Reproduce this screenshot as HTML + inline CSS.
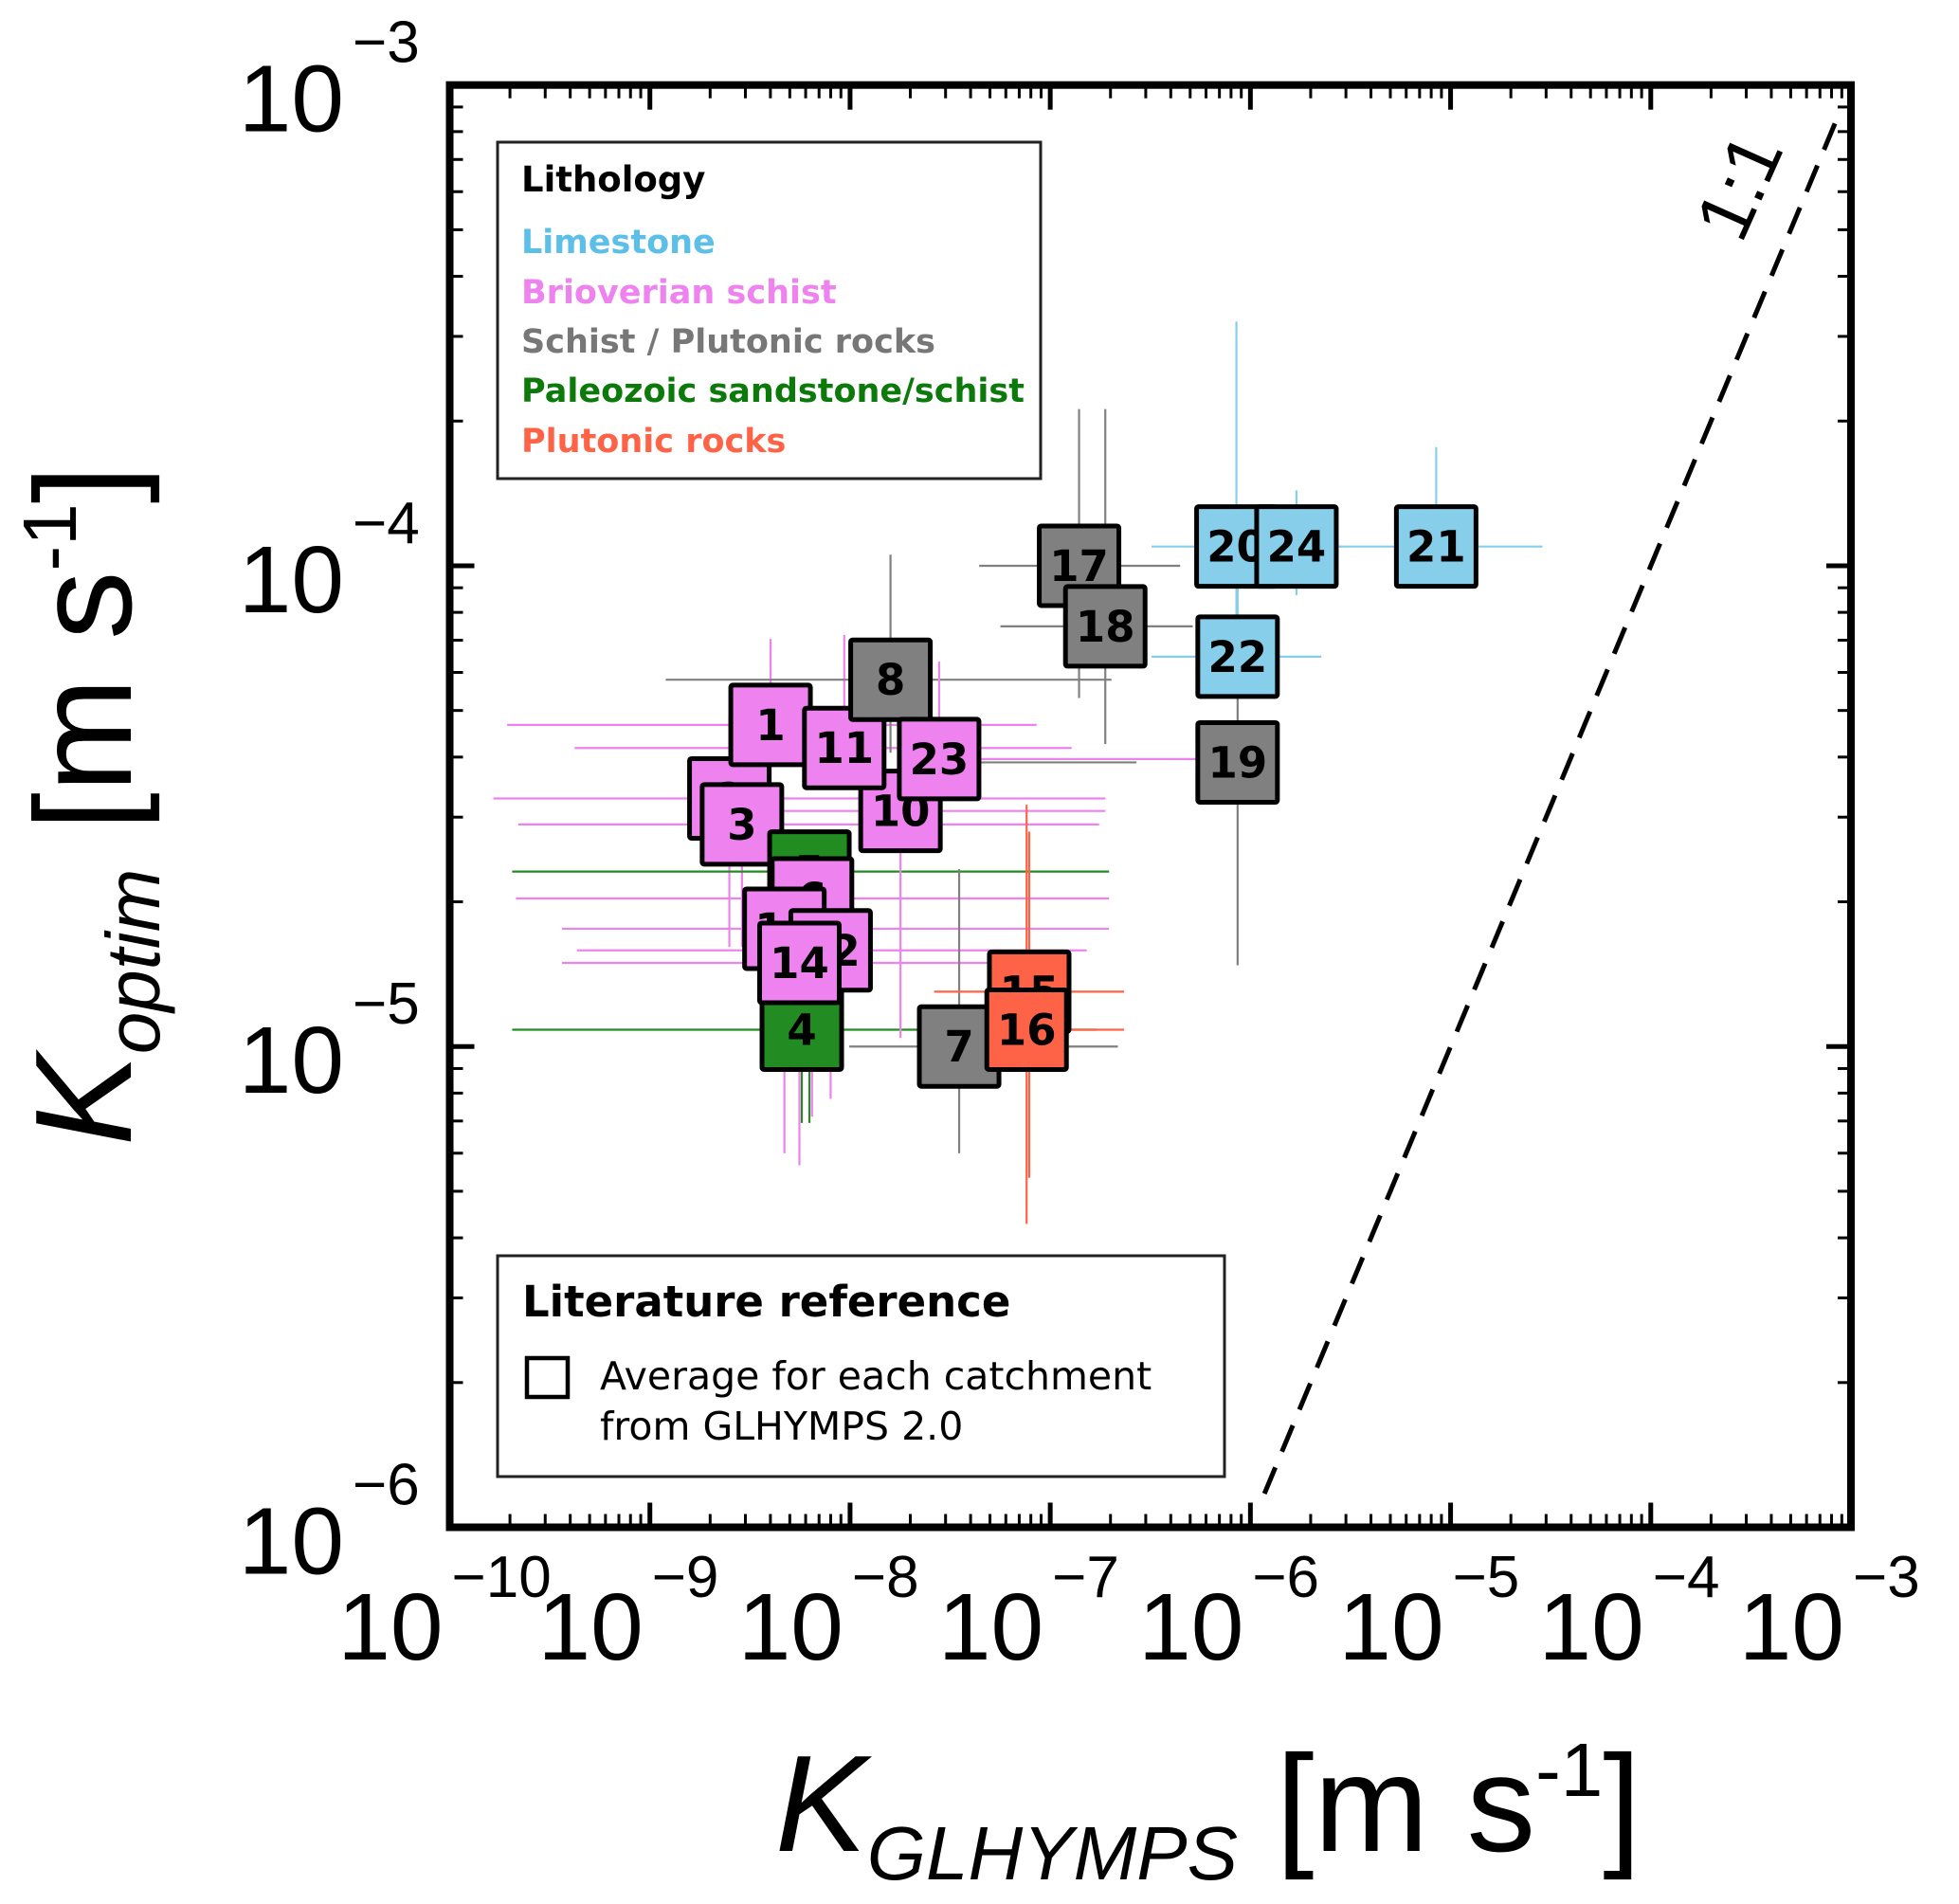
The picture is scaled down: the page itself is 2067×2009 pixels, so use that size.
<!DOCTYPE html>
<html><head><meta charset="utf-8"><style>
html,body{margin:0;padding:0;background:#fff;}
svg{display:block;font-family:"Liberation Sans","DejaVu Sans",sans-serif;}
</style></head><body>
<svg id="chart" width="2067" height="2009" viewBox="0 0 2067 2009" xmlns="http://www.w3.org/2000/svg">
<rect x="0" y="0" width="2067" height="2009" fill="#fff"/>
<g id="err-layer"></g>
<g id="box-layer"></g>
<g id="frame-layer"></g>
</svg>
<script>
// ---- data (log10 values) ----
const ids   = [2,1,3,5,6,13,12,4,14,10,11,8,23,7,15,16,17,18,19,20,24,21,22];
const lith  = ['b','b','b','p','b','b','b','p','b','b','b','s','b','s','o','o','s','s','s','l','l','l','l'];
const logX  = [-8.603,-8.397,-8.540,-8.203,-8.190,-8.328,-8.097,-8.241,-8.253,-7.748,-8.029,-7.798,-7.555,-7.455,-7.105,-7.118,-6.856,-6.725,-6.064,-6.070,-5.770,-5.072,-6.064];
const logY  = [-4.484,-4.331,-4.538,-4.636,-4.692,-4.755,-4.800,-4.965,-4.826,-4.510,-4.379,-4.237,-4.402,-5.000,-4.886,-4.965,-4.000,-4.126,-4.409,-3.960,-3.960,-3.960,-4.189];
const xLo   = [-9.782,-9.713,-9.657,-9.688,-9.669,-9.439,-9.364,-9.688,-9.439,-8.503,-9.376,-8.921,-7.380,-8.004,-7.580,-7.318,-7.355,-7.249,-7.349,-6.494,-5.976,-5.633,-6.494];
const xHi   = [-6.725,-7.068,-6.756,-6.706,-6.706,-6.706,-6.818,-6.769,-7.255,-6.725,-6.893,-6.694,-6.269,-6.662,-6.631,-6.631,-6.351,-6.288,-6.569,-5.633,-5.540,-4.541,-5.646];
const yLo   = [-4.793,-4.540,-4.793,-5.159,-5.146,-5.222,-5.109,-5.159,-5.247,-4.982,-4.439,-4.389,-4.553,-5.222,-5.273,-5.369,-4.275,-4.371,-4.831,-4.136,-4.061,-4.035,-4.237];
const yHi   = [-4.313,-4.152,-4.389,-4.566,-4.591,-4.692,-4.742,-4.843,-4.768,-4.439,-4.144,-3.977,-4.199,-4.631,-4.553,-4.497,-3.674,-3.674,-4.237,-3.492,-3.843,-3.753,-3.960];
const xTickExp = [-10,-9,-8,-7,-6,-5,-4,-3];
const yTickExp = [-6,-5,-4,-3];
const colors = {l:'#87CEEB', b:'#EE82EE', s:'#808080', p:'#228B22', o:'#FF6347'};

// ---- axes ----
const X0=474.5, X1=1953, Y0=89.7, Y1=1611.5;
const xmin=-10,xmax=-3,ymin=-6,ymax=-3;
const sx=v=>X0+(v-xmin)/(xmax-xmin)*(X1-X0);
const sy=v=>Y1-(v-ymin)/(ymax-ymin)*(Y1-Y0);
const NS='http://www.w3.org/2000/svg';
function mk(tag,attrs,parent){const e=document.createElementNS(NS,tag);for(const k in attrs)e.setAttribute(k,attrs[k]);parent.appendChild(e);return e;}
const errL=document.getElementById('err-layer');
const boxL=document.getElementById('box-layer');
const frL=document.getElementById('frame-layer');

for(let i=0;i<ids.length;i++){
  const c=colors[lith[i]];
  const h=mk('line',{x1:sx(xLo[i]),x2:sx(xHi[i]),y1:sy(logY[i]),y2:sy(logY[i]),stroke:c,'stroke-width':2.2},errL);
  
  
  const v=mk('line',{x1:sx(logX[i]),x2:sx(logX[i]),y1:sy(yLo[i]),y2:sy(yHi[i]),stroke:c,'stroke-width':2.2},errL);
  
  
}
const B=84;
for(let i=0;i<ids.length;i++){
  const g=mk('g',{},boxL);
  
  
  const cx=sx(logX[i]), cy=sy(logY[i]);
  mk('rect',{x:cx-B/2,y:cy-B/2,width:B,height:B,fill:colors[lith[i]],stroke:'#000','stroke-width':5,rx:2},g);
  const t=mk('text',{x:cx,y:cy+16,'text-anchor':'middle','font-size':45,'font-weight':'bold','font-family':'"DejaVu Sans",sans-serif',fill:'#000'},g);
  t.textContent=ids[i];
}
const one=mk('line',{x1:sx(-5.93),y1:sy(-5.93),x2:sx(-3.045),y2:sy(-3.045),stroke:'#000','stroke-width':5,'stroke-dasharray':'30 18'},frL);


const ot=mk('text',{x:0,y:0,transform:'translate(1860,208) rotate(-66)','text-anchor':'middle','font-size':80,fill:'#000'},frL);
ot.textContent='1:1';



const fr=mk('rect',{x:X0,y:Y0,width:X1-X0,height:Y1-Y0,fill:'none',stroke:'#000','stroke-width':8},frL);


for(let d=xmin;d<=xmax;d++){
  for(let m=1;m<10;m++){
    if(d===xmax&&m>1)break;
    const x=sx(d+Math.log10(m)); const L=m===1?26:14; const w=m===1?5:3;
    if(x<X0+1||x>X1-1)continue;
    mk('line',{x1:x,x2:x,y1:Y1,y2:Y1-L,stroke:'#000','stroke-width':w},frL);
    mk('line',{x1:x,x2:x,y1:Y0,y2:Y0+L,stroke:'#000','stroke-width':w},frL);
  }
}
for(let d=ymin;d<=ymax;d++){
  for(let m=1;m<10;m++){
    if(d===ymax&&m>1)break;
    const y=sy(d+Math.log10(m)); const L=m===1?26:14; const w=m===1?5:3;
    if(y<Y0+1||y>Y1-1)continue;
    mk('line',{x1:X0,x2:X0+L,y1:y,y2:y,stroke:'#000','stroke-width':w},frL);
    mk('line',{x1:X1,x2:X1-L,y1:y,y2:y,stroke:'#000','stroke-width':w},frL);
  }
}
xTickExp.forEach(e=>{
  const x=sx(e);
  const t=mk('text',{x:x-7,y:1751,'text-anchor':'end','font-size':100,fill:'#000'},frL);
  
  
  t.textContent='10';
  const s=mk('text',{x:x+2,y:1685,'text-anchor':'start','font-size':62,fill:'#000'},frL);
  
  
  s.textContent='\u2212'+(-e);
});
yTickExp.forEach(e=>{
  const y=sy(e);
  const t=mk('text',{x:363,y:y+49,'text-anchor':'end','font-size':100,fill:'#000'},frL);
  
  
  t.textContent='10';
  const s=mk('text',{x:372,y:y-24,'text-anchor':'start','font-size':62,fill:'#000'},frL);
  
  
  s.textContent='\u2212'+(-e);
});
</script>
<svg style="position:absolute;left:0;top:0" width="2067" height="2009" viewBox="0 0 2067 2009" xmlns="http://www.w3.org/2000/svg" font-family="Liberation Sans, DejaVu Sans, sans-serif">
  <g>
    <rect x="525" y="150" width="573" height="355" fill="#fff" stroke="#222" stroke-width="3"/>
    <text x="550" y="202" font-size="37" font-weight="bold" font-family="DejaVu Sans, sans-serif" fill="#000">Lithology</text>
    <text x="550" y="267" font-size="35" font-weight="bold" font-family="DejaVu Sans, sans-serif" fill="#5bbfe8">Limestone</text>
    <text x="550" y="320" font-size="35" font-weight="bold" font-family="DejaVu Sans, sans-serif" fill="#EE82EE">Brioverian schist</text>
    <text x="550" y="372" font-size="35" font-weight="bold" font-family="DejaVu Sans, sans-serif" fill="#777">Schist / Plutonic rocks</text>
    <text x="550" y="424" font-size="35" font-weight="bold" font-family="DejaVu Sans, sans-serif" fill="#0b7a0b">Paleozoic sandstone/schist</text>
    <text x="550" y="477" font-size="35" font-weight="bold" font-family="DejaVu Sans, sans-serif" fill="#FF6347">Plutonic rocks</text>
  </g>
  <g>
    <rect x="525" y="1325" width="767" height="233" fill="#fff" stroke="#222" stroke-width="3"/>
    <text x="551" y="1389" font-size="45" font-weight="bold" font-family="DejaVu Sans, sans-serif" fill="#000">Literature reference</text>
    <rect x="556" y="1433" width="43" height="41" fill="none" stroke="#000" stroke-width="4.5"/>
    <text x="633" y="1466" font-size="41" font-family="DejaVu Sans, sans-serif" fill="#000">Average for each catchment</text>
    <text x="633" y="1519" font-size="41" font-family="DejaVu Sans, sans-serif" fill="#000">from GLHYMPS 2.0</text>
  </g>
  <text x="818" y="1953" font-size="145" fill="#000"><tspan font-style="italic">K</tspan><tspan font-style="italic" font-size="80" dy="30">GLHYMPS</tspan><tspan dy="-30"> [m s</tspan><tspan font-size="80" dy="-58">-1</tspan><tspan dy="58">]</tspan></text>
  <text transform="translate(138,1209) rotate(-90)" x="0" y="0" font-size="145" fill="#000"><tspan font-style="italic">K</tspan><tspan font-style="italic" font-size="80" dy="30">optim</tspan><tspan dy="-30"> [m s</tspan><tspan font-size="80" dy="-58">-1</tspan><tspan dy="58">]</tspan></text>
</svg>
</body></html>
